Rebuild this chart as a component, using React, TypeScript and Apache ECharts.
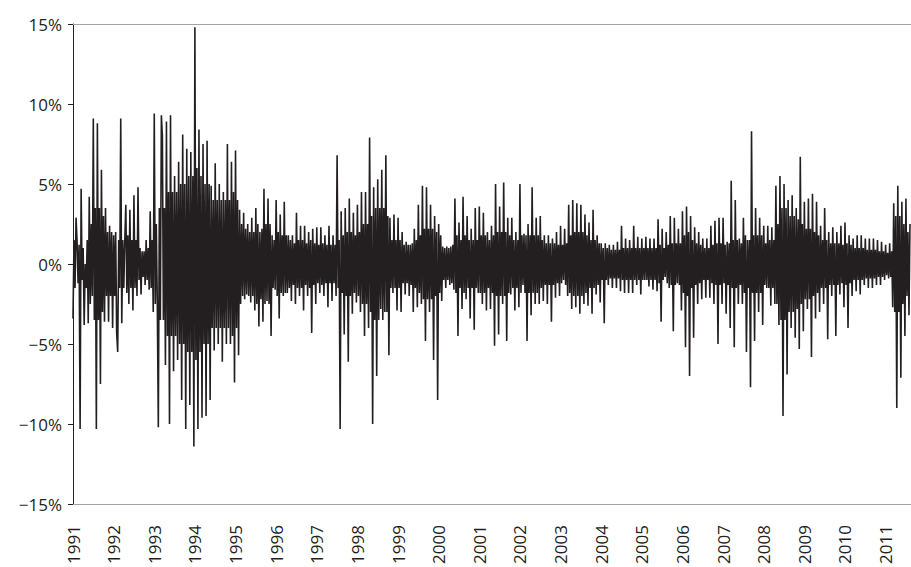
import React, { useEffect, useRef } from "react";
import * as echarts from "echarts";

// Daily returns (%): alternating local highs / lows, 20 readings per year
const y1991 = [-3.4, 2.9, 1.4, -10.3, 4.7, -3.8, 0, -3.7, 4.2, -2.0, 9.1, -10.3, 8.8, -7.5, 5.9, -3.6, 3.5, -3.6, 2.4, -4.0];
const y1992 = [1.8, -4.3, -5.5, 9.1, -3.7, 1.5, 3.7, -2.5, 3.4, -2.9, 4.3, -2.0, 4.8, -1.9, 0.8, -1.3, 1.5, -1.6, 3.3, -3.0];
const y1993 = [9.4, -2.5, -10.2, 9.3, 8.0, -6.3, 8.9, -10.0, 9.3, -6.7, 5.5, -6.0, 6.4, -8.5, 8.1, -10.3, 7.2, -8.8, 7.0, -11.4];
const y1994 = [14.8, -10.3, 8.4, -9.6, 7.5, -9.5, 7.7, -8.5, 4.9, -5.4, 6.3, -5.0, 5.0, -6.1, 4.5, -5.0, 7.5, -5.0, 6.4, -7.4];
const y1995 = [7.1, -5.7, 3.4, -2.0, 3.2, -1.9, 2.5, -2.4, 2.9, -2.9, 3.5, -3.9, 2.0, -3.6, 4.7, -2.3, 4.1, -4.5, 1.8, -1.6];
const y1996 = [4.0, -3.4, 3.1, -2.0, 3.9, -1.8, 1.8, -2.3, 1.8, -2.5, 3.2, -2.0, 2.4, -2.9, 2.4, -2.0, 2.0, -4.3, 2.2, -2.5];
const y1997 = [2.3, -1.8, 2.3, -2.0, 1.8, -2.7, 2.4, -2.3, 1.8, -2.0, 6.8, -10.3, 3.3, -4.4, 3.5, -6.1, 4.1, -3.1, 3.2, -2.4];
const y1998 = [3.7, -3.0, 4.5, -4.5, 4.5, -4.0, 7.9, -10.0, 4.8, -7.0, 5.3, -2.8, 5.9, -3.0, 6.8, -5.7, 2.9, -1.8, 3.1, -2.9];
const y1999 = [2.9, -3.0, 2.0, -1.9, 1.4, -2.0, 1.2, -3.0, 2.2, -2.7, 3.7, -2.5, 4.9, -4.8, 4.8, -3.0, 3.7, -6.0, 3.0, -8.5];
const y2000 = [2.5, -2.3, 1.1, -1.5, 1.1, -1.3, 1.1, -1.6, 4.1, -4.5, 2.6, -2.8, 4.2, -2.2, 3.0, -3.4, 2.2, -4.1, 3.5, -1.8];
const y2001 = [3.6, -2.5, 3.2, -2.9, 2.0, -2.8, 2.4, -5.1, 5.0, -4.4, 3.6, -2.5, 5.1, -4.8, 2.9, -1.9, 2.9, -2.9, 2.0, -2.7];
const y2002 = [5.0, -1.3, 1.9, -4.8, 2.5, -3.2, 4.8, -2.5, 2.9, -2.5, 3.0, -2.3, 1.8, -2.5, 1.8, -3.6, 1.6, -2.1, 2.0, -2.0];
const y2003 = [2.4, -1.0, 2.2, -2.0, 3.7, -2.8, 4.0, -2.7, 3.8, -3.1, 3.7, -2.5, 3.1, -2.6, 2.6, -3.1, 3.4, -1.9, 1.8, -2.4];
const y2004 = [1.3, -3.7, 1.3, -1.3, 1.2, -1.5, 1.2, -1.5, 1.4, -1.7, 2.4, -1.8, 1.6, -1.8, 1.5, -1.8, 2.4, -1.3, 1.7, -1.9];
const y2005 = [1.6, -1.0, 1.7, -1.4, 1.6, -1.6, 1.6, -1.7, 2.8, -3.6, 2.2, -0.8, 2.0, -1.5, 3.0, -4.2, 2.9, -1.2, 2.2, -2.9];
const y2006 = [3.3, -5.2, 3.6, -7.0, 3.0, -4.6, 2.3, -2.5, 2.0, -2.2, 1.6, -2.1, 1.6, -2.1, 2.4, -2.5, 2.7, -5.0, 2.9, -2.5];
const y2007 = [2.9, -3.1, 1.4, -4.0, 5.2, -5.2, 4.0, -2.5, 1.6, -2.5, 2.9, -5.5, 1.5, -7.7, 8.3, -4.8, 3.5, -3.0, 2.9, -3.8];
const y2008 = [2.4, -1.5, 2.4, -2.6, 2.3, -2.5, 4.9, -3.8, 5.5, -9.5, 5.0, -6.9, 4.0, -4.0, 4.3, -4.6, 3.5, -5.3, 6.7, -4.2];
const y2009 = [3.9, -2.8, 4.1, -5.8, 4.4, -3.4, 3.9, -3.0, 2.4, -2.5, 3.5, -4.7, 2.0, -2.0, 2.3, -4.5, 2.0, -1.9, 2.4, -2.7];
const y2010 = [2.6, -4.0, 1.8, -2.0, 1.6, -1.7, 1.8, -1.9, 1.8, -1.3, 1.6, -1.5, 1.6, -1.5, 1.6, -1.3, 1.5, -1.3, 1.4, -1.0];
const y2011 = [1.2, -0.9, 1.3, -2.7, 3.8, -9.0, 4.9, -7.1, 3.9, -4.5, 4.1, -3.2, 2.5];

// Half-width (%) of the dense, solid band of everyday moves (one reading per high/low pair)
const c1991 = [1.5, 1.2, 1.0, 1.5, 2.5, 3.5, 3.5, 3.0, 2.0, 2.0];
const c1992 = [2.0, 1.5, 1.5, 1.8, 1.5, 1.5, 1.0, 0.8, 1.0, 1.5];
const c1993 = [2.5, 3.5, 3.5, 4.5, 4.5, 4.5, 5.0, 5.0, 5.5, 5.5];
const c1994 = [6.0, 5.5, 5.0, 5.0, 4.0, 4.0, 4.0, 4.0, 4.0, 4.5];
const c1995 = [4.0, 2.5, 2.2, 2.0, 2.0, 2.5, 2.2, 2.5, 2.5, 1.5];
const c1996 = [2.0, 1.8, 1.8, 1.5, 1.3, 1.5, 1.5, 1.3, 1.5, 1.3];
const c1997 = [1.2, 1.3, 1.2, 1.2, 1.2, 1.5, 1.8, 2.0, 2.0, 1.8];
const c1998 = [2.0, 2.5, 2.5, 3.0, 3.5, 3.5, 3.5, 3.0, 1.5, 1.5];
const c1999 = [1.5, 1.2, 1.2, 1.3, 1.5, 1.8, 2.2, 2.2, 2.2, 2.0];
const c2000 = [1.8, 1.0, 1.0, 1.2, 1.8, 1.5, 1.8, 1.5, 1.5, 1.5];
const c2001 = [1.8, 1.8, 1.5, 1.8, 2.0, 2.0, 2.0, 1.8, 1.5, 1.5];
const c2002 = [1.8, 1.8, 1.8, 1.8, 1.8, 1.5, 1.3, 1.3, 1.3, 1.2];
const c2003 = [1.2, 1.3, 1.8, 2.0, 2.0, 2.0, 1.8, 1.5, 1.5, 1.3];
const c2004 = [1.0, 1.0, 0.9, 0.9, 0.9, 1.0, 1.0, 1.0, 1.0, 1.0];
const c2005 = [1.0, 1.0, 1.0, 1.0, 1.2, 1.0, 1.2, 1.3, 1.3, 1.3];
const c2006 = [1.8, 2.0, 1.5, 1.3, 1.2, 1.0, 1.0, 1.2, 1.3, 1.3];
const c2007 = [1.2, 1.3, 1.5, 1.5, 1.3, 1.8, 1.5, 1.8, 1.8, 1.8];
const c2008 = [1.3, 1.5, 1.5, 2.5, 3.5, 3.5, 3.0, 3.0, 2.8, 2.5];
const c2009 = [2.2, 2.2, 2.0, 1.8, 1.5, 1.5, 1.3, 1.3, 1.3, 1.2];
const c2010 = [1.3, 1.2, 1.0, 1.0, 1.0, 0.9, 0.9, 0.9, 0.8, 0.8];
const c2011 = [0.7, 0.8, 3.0, 3.0, 2.5, 2.0];

const years = [1991, 1992, 1993, 1994, 1995, 1996, 1997, 1998, 1999, 2000, 2001, 2002, 2003, 2004, 2005, 2006, 2007, 2008, 2009, 2010, 2011];
const yearValues = [y1991, y1992, y1993, y1994, y1995, y1996, y1997, y1998, y1999, y2000, y2001, y2002, y2003, y2004, y2005, y2006, y2007, y2008, y2009, y2010, y2011];
const yearCore = [c1991, c1992, c1993, c1994, c1995, c1996, c1997, c1998, c1999, c2000, c2001, c2002, c2003, c2004, c2005, c2006, c2007, c2008, c2009, c2010, c2011];
const stepsPerYear = 40;
const xMin = 1991;
const xMax = 2011.625;

const yTicks = [-15, -10, -5, 0, 5, 10, 15];

const INK = "#231f20";
const GRAY = "#a3a3a3";
const FONT = "'Open Sans', 'Noto Sans', sans-serif";

export default function App() {
  const ref = useRef<HTMLDivElement>(null);

  useEffect(() => {
    if (!ref.current) return;
    const chart = echarts.init(ref.current, undefined, { renderer: "svg" });

    const points: [number, number][] = [];
    years.forEach((yr, yi) => {
      const ext = yearValues[yi];
      const core = yearCore[yi];
      let step = 0;
      const push = (v: number) => {
        points.push([yr + step / stepsPerYear, v]);
        step++;
      };
      for (let k = 0; 2 * k < ext.length; k++) {
        const e1 = ext[2 * k];
        const e2 = ext[2 * k + 1];
        const c = core[Math.min(core.length - 1, k)];
        const s = e1 >= 0 ? 1 : -1;
        push(e1);
        if (e2 === undefined) break;
        push(-s * c);
        push(s * c);
        push(e2);
      }
    });

    const fmtY = (v: number) => (v < 0 ? "\u2212" : "") + Math.abs(v) + "%";

    chart.setOption({
      animation: false,
      backgroundColor: "#ffffff",
      grid: { left: 73, right: 0, top: 24, bottom: 60, containLabel: false },
      xAxis: [
        {
          type: "value",
          min: xMin,
          max: xMax,
          interval: 1,
          position: "bottom",
          axisLine: { show: true, onZero: false, lineStyle: { color: GRAY, width: 1 } },
          axisTick: { show: false },
          splitLine: { show: false },
          axisLabel: {
            rotate: 90,
            margin: 21,
            color: INK,
            fontFamily: FONT,
            fontSize: 17,
            showMaxLabel: false,
            formatter: (v: number) => (Number.isInteger(v) && years.includes(v) ? String(v) : ""),
          },
        },
        {
          type: "value",
          min: xMin,
          max: xMax,
          position: "top",
          axisLine: { show: true, onZero: false, lineStyle: { color: GRAY, width: 1 } },
          axisTick: { show: false },
          axisLabel: { show: false },
          splitLine: { show: false },
        },
      ],
      yAxis: {
        type: "value",
        min: yTicks[0],
        max: yTicks[yTicks.length - 1],
        interval: 5,
        axisLine: { show: true, onZero: false, lineStyle: { color: INK, width: 1 } },
        axisTick: { show: true, inside: false, length: 5, lineStyle: { color: INK, width: 1 } },
        splitLine: { show: false },
        axisLabel: {
          margin: 11,
          color: INK,
          fontFamily: FONT,
          fontSize: 17,
          formatter: fmtY,
        },
      },
      series: [
        {
          type: "line",
          data: points,
          xAxisIndex: 0,
          showSymbol: false,
          symbol: "none",
          lineStyle: { color: INK, width: 1.6 },
          z: 1,
        },
      ],
    });

    return () => chart.dispose();
  }, []);

  return (
    <div
      ref={ref}
      style={{ position: "absolute", left: 0, top: 0, width: 911, height: 567, background: "#fff" }}
    />
  );
}
